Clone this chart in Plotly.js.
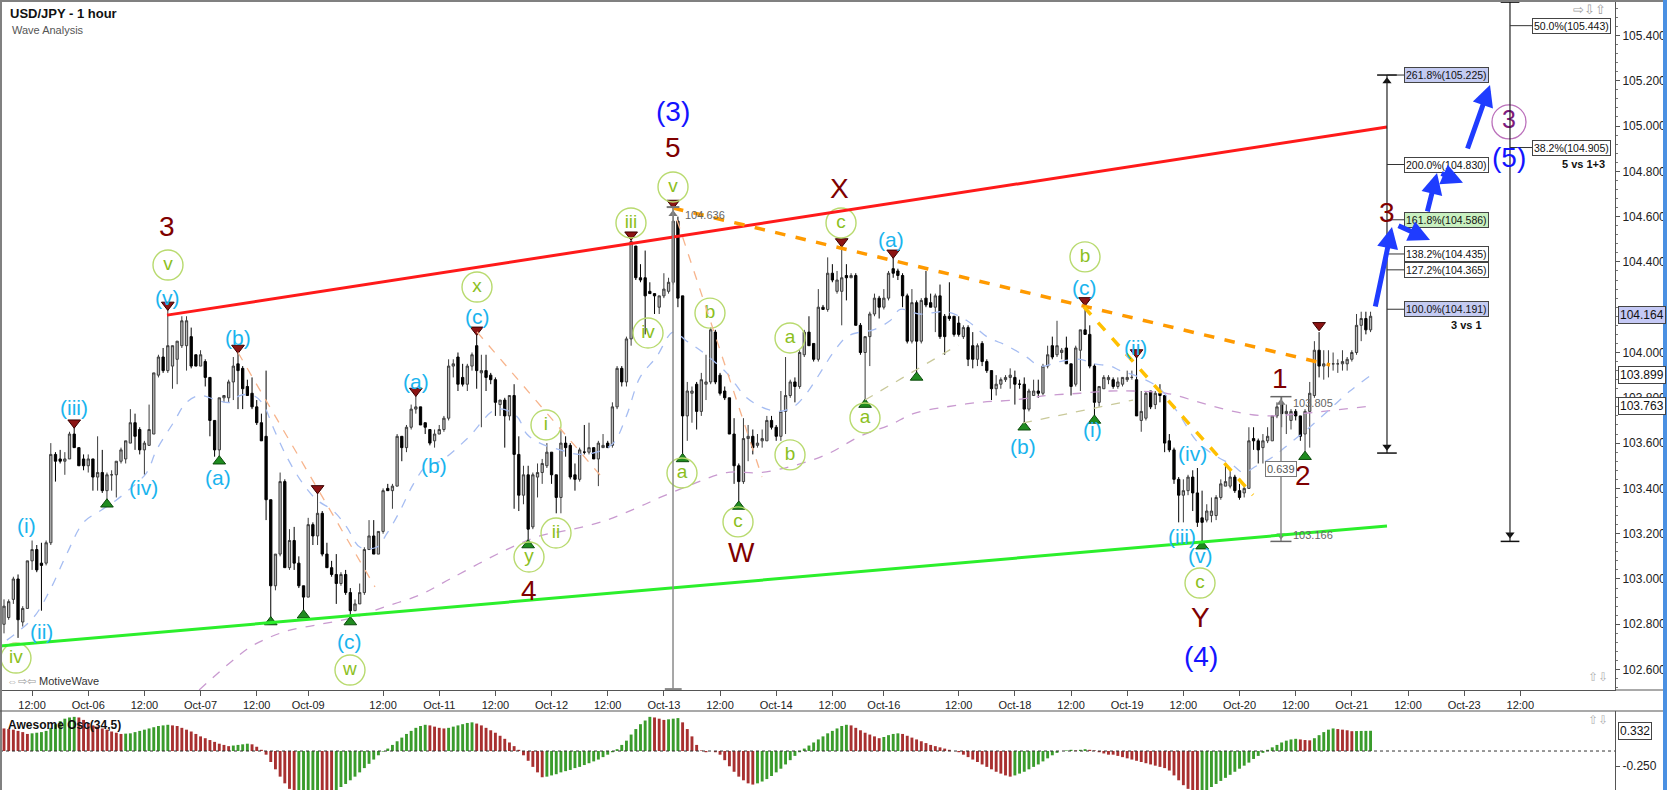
<!DOCTYPE html>
<html><head><meta charset="utf-8">
<script src="https://cdn.plot.ly/plotly-3.0.1.min.js"></script>
<style>html,body{margin:0;padding:0;background:#fff;overflow:hidden}#chart{width:1668px;height:790px}</style>
</head><body><div id="chart"></div>
<script>
// ---------------- DATA ----------------
const openP = [
102.80,102.83,102.91,103.00,102.81,102.87,103.08,103.13,103.07,103.07,
103.16,103.55,103.53,103.52,103.53,103.64,103.58,103.53,103.50,103.53,
103.45,103.47,103.39,103.46,103.46,103.52,103.53,103.60,103.69,103.66,
103.57,103.59,103.64,103.90,103.98,103.92,103.94,103.97,104.03,104.03,
104.07,103.99,103.94,103.96,103.89,103.70,103.57,103.80,103.80,103.87,
103.95,103.93,103.85,103.82,103.76,103.69,103.63,103.35,102.97,103.11,
103.43,103.05,103.17,103.07,102.97,102.92,103.24,103.19,103.29,103.11,
103.05,103.02,102.98,103.02,102.94,102.86,102.89,102.94,103.13,103.19,
103.11,103.21,103.40,103.39,103.41,103.63,103.58,103.67,103.75,103.76,
103.69,103.66,103.61,103.64,103.66,103.71,103.94,103.98,103.89,103.86,
103.94,104.03,103.91,103.92,103.90,103.88,103.77,103.79,103.72,103.81,
103.55,103.37,103.46,103.23,103.45,103.47,103.50,103.56,103.46,103.36,
103.60,103.59,103.46,103.44,103.56,103.56,103.58,103.53,103.58,103.60,
103.59,103.76,103.93,103.87,104.06,104.47,104.33,104.33,104.27,104.26,
104.20,104.25,104.27,104.31,104.58,104.25,103.72,103.82,103.86,103.74,
103.86,103.87,104.09,103.90,103.83,103.80,103.64,103.50,103.43,103.62,
103.63,103.59,103.61,103.61,103.70,103.67,103.63,103.74,103.81,103.87,
103.85,103.99,104.09,104.04,103.97,104.20,104.19,104.35,104.27,104.27,
104.34,104.33,104.34,104.12,104.00,104.07,104.17,104.24,104.20,104.24,
104.37,104.36,104.34,104.25,104.05,104.22,104.05,104.24,104.22,104.20,
104.25,104.16,104.16,104.16,104.13,104.07,104.11,104.03,103.97,104.04,
103.96,103.92,103.84,103.86,103.88,103.89,103.89,103.86,103.86,103.75,
103.81,103.83,103.82,103.94,104.03,103.99,104.00,104.02,103.95,103.86,
104.01,104.10,104.08,103.94,103.78,103.84,103.88,103.88,103.85,103.86,
103.88,103.89,103.88,103.70,103.71,103.83,103.77,103.82,103.81,103.61,
103.57,103.44,103.37,103.39,103.45,103.38,103.27,103.26,103.28,103.28,
103.36,103.41,103.41,103.45,103.39,103.38,103.40,103.62,103.61,103.58,
103.61,103.61,103.72,103.77,103.73,103.70,103.74,103.72,103.64,103.74,
103.81,104.01,103.94,103.95,103.95,103.95,103.95,103.95,103.97,104.00,
104.12,104.15,104.10];
const highP = [
102.91,102.91,103.01,103.02,102.88,103.08,103.17,103.15,103.16,103.17,
103.60,103.56,103.57,103.56,103.65,103.67,103.58,103.55,103.55,103.53,
103.63,103.57,103.47,103.48,103.52,103.58,103.61,103.75,103.73,103.67,
103.61,103.77,103.91,103.99,104.02,104.19,104.03,104.05,104.16,104.16,
104.11,103.99,104.01,103.97,103.89,103.70,103.80,103.81,103.88,103.98,
104.00,103.94,103.88,103.89,103.79,103.73,103.92,103.35,103.11,103.47,
103.44,103.22,103.23,103.10,102.97,103.27,103.25,103.38,103.30,103.16,
103.08,103.11,103.03,103.04,102.96,102.91,102.98,103.14,103.26,103.26,
103.21,103.40,103.42,103.42,103.64,103.63,103.68,103.77,103.81,103.76,
103.69,103.66,103.66,103.68,103.72,103.97,103.97,104.00,103.95,103.95,
104.00,104.08,103.99,103.99,103.91,103.89,103.79,103.80,103.81,103.86,
103.63,103.50,103.50,103.47,103.51,103.53,103.60,103.56,103.46,103.66,
103.63,103.60,103.51,103.58,103.68,103.69,103.58,103.61,103.64,103.61,
103.78,103.94,103.94,104.07,104.50,104.47,104.39,104.45,104.31,104.26,
104.25,104.35,104.33,104.636,104.60,104.25,103.87,103.85,103.87,103.91,
103.99,104.11,104.10,103.91,103.85,103.80,103.71,103.51,103.71,103.68,
103.66,103.64,103.66,103.72,103.72,103.68,103.83,103.98,103.88,103.89,
104.01,104.10,104.16,104.04,104.28,104.21,104.42,104.39,104.36,104.47,
104.39,104.35,104.35,104.13,104.07,104.18,104.26,104.25,104.28,104.36,
104.42,104.37,104.35,104.26,104.28,104.23,104.24,104.36,104.26,104.26,
104.30,104.17,104.31,104.16,104.16,104.12,104.12,104.09,104.04,104.05,
103.97,103.92,103.90,103.89,103.90,103.93,103.92,103.88,103.89,103.84,
103.88,103.88,103.95,104.03,104.07,104.14,104.02,104.07,103.95,104.03,
104.10,104.21,104.12,103.95,103.85,103.90,103.90,103.89,103.89,103.89,
103.92,103.92,103.98,103.83,103.83,103.83,103.83,103.86,103.81,103.64,
103.58,103.45,103.44,103.46,103.48,103.49,103.39,103.33,103.36,103.37,
103.44,103.51,103.48,103.46,103.42,103.41,103.67,103.67,103.62,103.64,
103.67,103.72,103.78,103.805,103.77,103.75,103.75,103.72,103.75,103.87,
104.05,104.09,104.01,104.01,104.00,103.97,104.01,103.98,104.01,104.17,
104.18,104.18,104.18];
const lowP = [
102.76,102.82,102.89,102.74,102.79,102.87,103.04,103.03,102.86,103.06,
103.15,103.43,103.51,103.46,103.53,103.58,103.50,103.48,103.47,103.39,
103.39,103.38,103.35,103.39,103.36,103.51,103.51,103.60,103.57,103.55,
103.46,103.59,103.64,103.89,103.91,103.91,103.84,103.86,104.02,103.92,
103.93,103.94,103.94,103.85,103.63,103.54,103.54,103.78,103.78,103.79,
103.75,103.75,103.81,103.75,103.68,103.61,103.26,102.83,102.95,103.10,
103.05,103.04,103.04,102.96,102.86,102.92,103.15,103.15,103.10,103.05,
103.01,102.89,102.97,102.93,102.83,102.86,102.89,102.93,103.13,103.11,
103.11,103.20,103.39,103.31,103.41,103.52,103.56,103.66,103.73,103.68,
103.64,103.59,103.58,103.64,103.65,103.70,103.89,103.83,103.85,103.83,
103.92,103.84,103.67,103.83,103.86,103.72,103.72,103.58,103.70,103.31,
103.30,103.33,103.17,103.22,103.36,103.42,103.49,103.42,103.29,103.29,
103.54,103.44,103.39,103.43,103.55,103.55,103.53,103.41,103.58,103.58,
103.58,103.75,103.85,103.85,104.03,104.32,104.31,104.08,104.26,104.17,
104.17,104.24,104.26,104.30,104.20,103.55,103.61,103.69,103.66,103.72,
103.79,103.86,103.86,103.81,103.79,103.64,103.42,103.34,103.42,103.52,
103.55,103.58,103.58,103.61,103.66,103.61,103.61,103.64,103.80,103.78,
103.84,103.98,104.03,103.96,103.96,104.19,104.18,104.31,104.26,104.12,
104.23,104.33,104.12,103.99,103.79,103.94,104.16,104.15,104.19,104.23,
104.33,104.32,104.20,104.04,104.04,103.91,104.04,104.20,104.20,104.09,
104.06,103.99,104.14,104.07,104.07,104.06,103.94,103.93,103.94,103.94,
103.91,103.79,103.81,103.84,103.87,103.84,103.77,103.84,103.69,103.74,
103.81,103.80,103.81,103.93,103.97,103.98,103.97,103.95,103.81,103.85,
103.83,104.08,103.93,103.72,103.76,103.84,103.86,103.84,103.84,103.85,
103.87,103.88,103.72,103.65,103.70,103.75,103.75,103.78,103.56,103.56,
103.42,103.25,103.25,103.37,103.30,103.23,103.166,103.25,103.25,103.26,
103.35,103.41,103.40,103.38,103.35,103.36,103.40,103.57,103.51,103.51,
103.60,103.61,103.71,103.67,103.64,103.66,103.70,103.61,103.56,103.58,
103.80,103.89,103.88,103.89,103.92,103.91,103.92,103.92,103.96,103.99,
104.05,104.08,104.09];
const closeP = [
102.88,102.90,103.00,102.82,102.87,103.08,103.13,103.04,103.06,103.16,
103.55,103.52,103.52,103.53,103.64,103.58,103.50,103.50,103.53,103.45,
103.47,103.39,103.46,103.46,103.52,103.57,103.61,103.69,103.63,103.57,
103.60,103.66,103.91,103.98,103.92,104.03,104.03,104.05,104.14,104.14,
103.94,103.94,103.99,103.89,103.70,103.57,103.80,103.81,103.87,103.94,
103.92,103.84,103.81,103.76,103.69,103.61,103.35,102.97,103.11,103.43,
103.05,103.17,103.07,102.97,102.92,103.24,103.19,103.29,103.11,103.05,
103.02,102.98,103.02,102.94,102.86,102.89,102.94,103.13,103.19,103.11,
103.21,103.39,103.39,103.41,103.63,103.58,103.67,103.75,103.76,103.68,
103.67,103.60,103.64,103.66,103.71,103.94,103.95,103.86,103.86,103.94,
103.99,103.92,103.92,103.89,103.88,103.78,103.79,103.72,103.81,103.55,
103.37,103.46,103.22,103.46,103.47,103.51,103.56,103.46,103.36,103.60,
103.58,103.45,103.44,103.57,103.56,103.58,103.53,103.60,103.59,103.58,
103.76,103.93,103.87,104.06,104.49,104.33,104.32,104.25,104.26,104.25,
104.25,104.28,104.31,104.58,104.24,103.72,103.83,103.83,103.74,103.88,
103.87,104.10,103.87,103.82,103.80,103.64,103.50,103.43,103.62,103.63,
103.58,103.60,103.62,103.70,103.67,103.63,103.74,103.81,103.87,103.85,
104.00,104.09,104.03,103.97,104.20,104.19,104.35,104.32,104.32,104.33,
104.33,104.34,104.12,104.00,104.07,104.17,104.24,104.20,104.24,104.35,
104.35,104.34,104.25,104.05,104.22,104.05,104.23,104.21,104.20,104.25,
104.07,104.07,104.15,104.08,104.08,104.11,103.97,103.97,104.03,103.96,
103.92,103.84,103.86,103.88,103.89,103.90,103.86,103.86,103.75,103.83,
103.83,103.82,103.94,103.99,103.98,104.03,104.01,103.95,103.85,104.02,
104.10,104.08,103.94,103.78,103.85,103.89,103.89,103.85,103.87,103.89,
103.89,103.89,103.72,103.74,103.82,103.76,103.82,103.81,103.60,103.57,
103.44,103.37,103.39,103.45,103.38,103.25,103.25,103.30,103.30,103.36,
103.42,103.43,103.45,103.39,103.36,103.40,103.61,103.61,103.57,103.61,
103.63,103.72,103.76,103.73,103.74,103.74,103.72,103.63,103.74,103.82,
104.01,103.94,103.95,103.95,103.95,103.95,103.96,103.97,104.00,104.12,
104.15,104.10,104.16];
// Awesome Oscillator (34,5), one value per candle
const aoValues = [
0.37,0.36,0.35,0.33,0.31,0.28,0.29,0.30,0.31,0.33,
0.38,0.44,0.49,0.53,0.55,0.56,0.55,0.51,0.46,0.42,
0.40,0.37,0.35,0.32,0.30,0.28,0.285,0.29,0.31,0.33,
0.35,0.37,0.39,0.41,0.42,0.43,0.42,0.41,0.38,0.35,
0.32,0.28,0.24,0.21,0.18,0.15,0.12,0.10,0.08,0.09,
0.10,0.11,0.12,0.11,0.07,0.02,-0.06,-0.18,-0.30,-0.42,
-0.53,-0.62,-0.70,-0.69,-0.68,-0.67,-0.66,-0.65,-0.66,-0.67,
-0.68,-0.64,-0.59,-0.54,-0.48,-0.42,-0.35,-0.28,-0.21,-0.14,
-0.07,-0.01,0.04,0.10,0.16,0.22,0.28,0.33,0.38,0.41,
0.43,0.42,0.40,0.38,0.37,0.38,0.40,0.42,0.44,0.46,
0.47,0.45,0.42,0.38,0.34,0.30,0.25,0.20,0.14,0.08,
0.02,-0.07,-0.16,-0.26,-0.35,-0.43,-0.42,-0.40,-0.38,-0.35,
-0.33,-0.31,-0.28,-0.26,-0.23,-0.20,-0.17,-0.14,-0.10,-0.06,
-0.02,0.03,0.10,0.17,0.27,0.36,0.44,0.50,0.56,0.55,
0.53,0.51,0.52,0.53,0.54,0.47,0.36,0.24,0.10,0.01,
-0.02,0.00,-0.02,-0.06,-0.15,-0.25,-0.34,-0.42,-0.48,-0.53,
-0.55,-0.53,-0.50,-0.46,-0.41,-0.35,-0.29,-0.22,-0.15,-0.08,
-0.02,0.04,0.09,0.14,0.19,0.24,0.29,0.33,0.37,0.41,
0.43,0.42,0.38,0.34,0.30,0.27,0.24,0.21,0.23,0.26,
0.28,0.29,0.28,0.25,0.22,0.19,0.16,0.13,0.10,0.08,
0.06,0.04,0.02,0.00,-0.02,-0.06,-0.10,-0.14,-0.18,-0.22,
-0.26,-0.30,-0.34,-0.37,-0.40,-0.42,-0.40,-0.37,-0.34,-0.30,
-0.26,-0.22,-0.17,-0.12,-0.07,-0.03,0.00,0.01,0.02,0.01,
0.02,0.03,0.02,0.01,-0.02,-0.04,-0.06,-0.06,-0.08,-0.10,
-0.12,-0.14,-0.16,-0.18,-0.20,-0.22,-0.24,-0.26,-0.28,-0.32,
-0.40,-0.48,-0.56,-0.62,-0.67,-0.70,-0.68,-0.64,-0.59,-0.54,
-0.49,-0.44,-0.39,-0.34,-0.29,-0.24,-0.19,-0.13,-0.08,-0.03,
0.02,0.06,0.10,0.14,0.17,0.19,0.20,0.19,0.18,0.175,
0.21,0.26,0.31,0.35,0.37,0.36,0.35,0.34,0.325,0.327,
0.329,0.330,0.332];
// moving averages (bar number, price)
const maFastBar = [0.6,6.3,9.8,13.4,17,20.5,24.1,27.6,30.5,32.6,36.2,39,41.9,45.4,48.3,50.4,53.3,55.4,57.5,60.4,63.9,66.8,70.4,73.2,76.1,79.6,81.8,84.6,87.5,90.3,93.2,99,105.3,109.5,111.7,114.5,118.8,123,126.6,130.2,133,135.9,139.4,143,145.9,149.4,154.4,158.7,163,165.8,168.7,171.5,174.4,177.2,180.1,182.9,185.7,189.3,191.5,195.7,201.4,205.8,210,214.3,218.5,221.4,225.6,229.9,232.8,236.4,238.5,242.7,247,251.3,254.8,258.4,262.7,264.8,267.7,271.2,274.8,279,283.3,287.6,292];
const maFastVal = [102.73,102.83,102.95,103.11,103.25,103.30,103.35,103.41,103.47,103.57,103.69,103.78,103.81,103.79,103.78,103.81,103.81,103.77,103.67,103.54,103.42,103.35,103.30,103.23,103.14,103.14,103.20,103.30,103.42,103.50,103.52,103.62,103.75,103.72,103.64,103.60,103.57,103.55,103.56,103.60,103.72,103.89,103.98,104.09,104.05,104.00,103.91,103.80,103.75,103.74,103.76,103.82,103.91,104.00,104.07,104.09,104.10,104.14,104.19,104.17,104.18,104.14,104.07,104.03,103.98,103.94,103.96,103.97,103.95,103.94,103.92,103.89,103.84,103.72,103.61,103.55,103.50,103.47,103.50,103.54,103.60,103.67,103.75,103.83,103.899];
const maSlowBar = [41.7,51.9,55.4,60.4,67.5,74.7,81.8,88.9,95.3,107.4,114.5,121.6,128.8,135.9,140.2,147.3,154.4,161.5,168.7,175.8,182.9,189.3,194.3,201.4,208.5,215.7,222.8,229.9,236.4,241.3,248.4,255.5,262.7,269.8,276.9,281.9,292];
const maSlowVal = [102.51,102.69,102.73,102.77,102.80,102.83,102.88,102.93,103.00,103.13,103.19,103.22,103.26,103.32,103.36,103.42,103.47,103.47,103.50,103.55,103.63,103.68,103.73,103.76,103.78,103.79,103.81,103.82,103.83,103.83,103.82,103.78,103.74,103.72,103.73,103.74,103.763];
// time-axis labels (every 12 bars, as printed)
const tickBars = [6,18,30,42,54,65,81,93,105,117,129,141,153,165,177,188,204,216,228,240,252,264,276,288,300,312,324];
const tickText = ['12:00','Oct-06','12:00','Oct-07','12:00','Oct-09','12:00','Oct-11','12:00','Oct-12','12:00','Oct-13','12:00','Oct-14','12:00','Oct-16','12:00','Oct-18','12:00','Oct-19','12:00','Oct-20','12:00','Oct-21','12:00','Oct-23','12:00'];
// price-axis labels (104.200 sits under the last-price box in the original)
const priceTicks = [102.6,102.8,103.0,103.2,103.4,103.6,103.8,104.0,104.4,104.6,104.8,105.0,105.2,105.4];
// swing markers
const swingHighBars = [15,35,50,67,88,101,134,143,179,190,231,242,281];
const swingHighPx   = [103.69,104.21,104.02,103.40,103.83,104.10,104.52,104.66,104.49,104.44,104.23,104.00,104.12];
const swingLowBars  = [22,46,57,64,74,112,145,157,184,195,218,233,256,278];
const swingLowPx    = [103.33,103.52,102.81,102.84,102.81,103.15,103.53,103.32,103.77,103.89,103.67,103.70,103.145,103.54];
// Fibonacci levels
const fibA = [['261.8%','105.225',105.225,'#c4cbf2'],['200.0%','104.830',104.830,'#ffffff'],['161.8%','104.586',104.586,'#c9f0c0'],['138.2%','104.435',104.435,'#ffffff'],['127.2%','104.365',104.365,'#ffffff'],['100.0%','104.191',104.191,'#c4cbf2']];
const fibB = [['50.0%','105.443',105.443,'#ffffff'],['38.2%','104.905',104.905,'#ffffff']];
const lastClose = 104.164, maFastLast = 103.899, maSlowLast = 103.763, aoLast = 0.332;
// wave labels [bar, price, text]
const greenWave = [[2.56,102.651,'iv'],[35.04,104.386,'v'],[101.07,104.289,'x'],[73.93,102.598,'w'],[115.81,103.680,'i'],[117.95,103.203,'ii'],[112.18,103.097,'y'],[133.97,104.572,'iii'],[137.61,104.086,'iv'],[142.95,104.731,'v'],[144.87,103.468,'a'],[150.85,104.174,'b'],[156.84,103.252,'c'],[167.95,104.064,'a'],[167.95,103.548,'b'],[178.85,104.572,'c'],[183.97,103.711,'a'],[230.98,104.422,'b'],[255.56,102.982,'c']];
const cyanWave = [[4.91,103.238,'(i)'],[7.91,102.766,'(ii)'],[14.96,103.755,'(iii)'],[29.91,103.402,'(iv)'],[35.04,104.245,'(v)'],[45.73,103.450,'(a)'],[50.0,104.068,'(b)'],[73.93,102.722,'(c)'],[88.03,103.870,'(a)'],[91.88,103.503,'(b)'],[101.07,104.157,'(c)'],[189.53,104.497,'(a)'],[217.74,103.583,'(b)'],[230.77,104.285,'(c)'],[232.69,103.658,'(i)'],[241.67,104.024,'(ii)'],[251.71,103.186,'(iii)'],[253.85,103.556,'(iv)'],[255.56,103.102,'(v)']];
const redWave = [[34.83,104.558,'3'],[112.18,102.951,'4'],[142.95,104.903,'5'],[157.48,103.119,'W'],[178.63,104.726,'X'],[255.56,102.828,'Y'],[272.65,103.887,'1'],[277.56,103.459,'2'],[295.51,104.616,'3']];
const blueWave = [[142.95,105.062,'(3)'],[255.77,102.656,'(4)'],[321.58,104.859,'(5)']];

// ---------------- CHART ----------------
const FONT = 'Liberation Sans, Arial, sans-serif';
const bars = closeP.map((_, i) => i);
const XR = [-0.855, 344.23];
const aoColors = aoValues.map((v, i) => (i > 0 && v > aoValues[i-1]) ? '#3a9c2c' : '#a83030');

const traces = [];
traces.push({type:'scatter',mode:'lines',x:maSlowBar,y:maSlowVal,line:{color:'#c99ad0',width:1.3,dash:'dash',shape:'spline'},hoverinfo:'skip'});
traces.push({type:'scatter',mode:'lines',x:maFastBar,y:maFastVal,line:{color:'#a6bdf2',width:1.3,dash:'dash',shape:'spline'},hoverinfo:'skip'});
traces.push({type:'candlestick',x:bars,open:openP,high:highP,low:lowP,close:closeP,
  increasing:{line:{color:'#3c3c3c',width:1},fillcolor:'#b9b9b9'},
  decreasing:{line:{color:'#000000',width:1},fillcolor:'#000000'},
  whiskerwidth:0,hoverinfo:'skip'});
traces.push({type:'bar',x:bars,y:aoValues,xaxis:'x',yaxis:'y2',width:0.62,marker:{color:aoColors,line:{width:0}},hoverinfo:'skip'});
traces.push({type:'scatter',mode:'markers',x:swingHighBars,y:swingHighPx,marker:{symbol:'triangle-down',size:11,color:'#8c1414',line:{color:'#3a0000',width:1}},hoverinfo:'skip'});
traces.push({type:'scatter',mode:'markers',x:swingLowBars,y:swingLowPx,marker:{symbol:'triangle-up',size:11,color:'#1f8c1f',line:{color:'#0b4a0b',width:1}},hoverinfo:'skip'});
traces.push({type:'scatter',mode:'markers+text',x:greenWave.map(d=>d[0]),y:greenWave.map(d=>d[1]),text:greenWave.map(d=>d[2]),textposition:'middle center',
  textfont:{family:FONT,size:19,color:'#8cbf1e'},marker:{symbol:'circle-open',size:30,color:'#b8da6e',line:{width:1.4}},hoverinfo:'skip'});
traces.push({type:'scatter',mode:'markers+text',x:[321.58],y:[105.018],text:['3'],textposition:'middle center',
  textfont:{family:FONT,size:25,color:'#7d1a7d'},marker:{symbol:'circle-open',size:34,color:'#bb70bb',line:{width:1.3}},hoverinfo:'skip'});
// measurement arrowheads
traces.push({type:'scatter',mode:'markers',x:[142.95,272.86,295.51],y:[104.612,103.778,105.198],marker:{symbol:'triangle-up',size:8,color:['#777','#777','#111']},hoverinfo:'skip'});
traces.push({type:'scatter',mode:'markers',x:[272.86,295.51,321.79],y:[103.192,103.584,103.196],marker:{symbol:'triangle-down',size:8,color:['#777','#111','#111']},hoverinfo:'skip'});

const shapes = [];
function seg(x0,y0,x1,y1,color,width,dash,yref){shapes.push({type:'line',xref:'x',yref:yref||'y',x0,y0,x1,y1,line:{color,width,dash:dash||'solid'},layer:'above'});}
function pseg(x0,y0,x1,y1,color,width,dash){shapes.push({type:'line',xref:'paper',yref:'paper',x0:x0/1668,y0:1-y0/790,x1:x1/1668,y1:1-y1/790,line:{color,width,dash:dash||'solid'}});}
// trend channel
seg(34.83,104.165,295.51,104.996,'#ff1a1a',3);
seg(-0.855,102.704,295.51,103.234,'#2bef2b',3);
// trend lines
seg(142.95,104.638,283.33,103.945,'#ff9a00',3.5,'dash');
seg(230.77,104.201,266.88,103.371,'#ffc000',3.5,'dash');
seg(50.0,104.000,79.27,102.965,'#f7b48c',1.3,'dash');
seg(101.07,104.091,127.35,103.459,'#f7b48c',1.3,'dash');
seg(143.8,104.585,161.97,103.450,'#f7b48c',1.3,'dash');
seg(183.97,103.790,203.85,104.033,'#c9c99a',1.3,'dash');
seg(217.74,103.689,241.24,103.790,'#c9c99a',1.3,'dash');
// measurement 1 (peak)
seg(142.95,104.642,142.95,102.512,'#8a8a8a',1.5);
seg(141.6,104.642,144.3,104.642,'#777',2);
seg(141.2,102.514,144.8,102.514,'#888',2);
// measurement 2
seg(272.86,103.805,272.86,103.166,'#8a8a8a',1.5);
seg(270.6,103.805,275.1,103.805,'#666',1.5);
seg(270.6,103.166,275.1,103.166,'#666',1.5);
// measurement 3 with fib ticks
seg(295.51,105.225,295.51,103.556,'#222',1.2);
seg(293.4,105.225,297.6,105.225,'#111',1.5);
seg(293.4,103.556,297.6,103.556,'#111',1.5);
fibA.forEach(f=>seg(295.51,f[2],299.15,f[2],'#333',1));
// measurement 4
seg(321.79,105.547,321.79,103.166,'#222',1.2);
seg(319.8,105.547,323.8,105.547,'#111',1.5);
seg(319.8,103.166,323.8,103.166,'#111',1.5);
fibB.forEach(f=>seg(321.79,f[2],326.5,f[2],'#333',1));
// oscillator zero line
shapes.push({type:'line',xref:'paper',yref:'y2',x0:0,x1:1615/1668,y0:0,y1:0,line:{color:'#333',width:1,dash:'dot'}});
// frame
pseg(0,1,1666,1,'#808080',2);
pseg(1,0,1,790,'#808080',2);
pseg(0,711,1664,711,'#555',1.2);
pseg(1615,690,1664,690,'#555',1);
pseg(1665,0,1665,790,'#4a90e2',4);

const ann = [];
function lab(x,y,t,size,color,bold){ann.push({x,y,xref:'x',yref:'y',text:bold?'<b>'+t+'</b>':t,showarrow:false,font:{family:FONT,size,color}});}
cyanWave.forEach(d=>lab(d[0],d[1],d[2],21,'#1ab4ee'));
redWave.forEach(d=>lab(d[0],d[1],d[2],28,'#7f0000'));
blueWave.forEach(d=>lab(d[0],d[1],d[2],28,'#1414ff'));
fibA.forEach(f=>ann.push({x:299.15,y:f[2],xref:'x',yref:'y',xanchor:'left',text:f[0]+'('+f[1]+')',showarrow:false,font:{family:FONT,size:10.5,color:'#111'},bgcolor:f[3],bordercolor:'#444',borderwidth:1,borderpad:1}));
fibB.forEach(f=>ann.push({x:326.5,y:f[2],xref:'x',yref:'y',xanchor:'left',text:f[0]+'('+f[1]+')',showarrow:false,font:{family:FONT,size:10.5,color:'#111'},bgcolor:f[3],bordercolor:'#444',borderwidth:1,borderpad:1}));
ann.push({x:312.6,y:104.121,xref:'x',yref:'y',text:'<b>3 vs 1</b>',showarrow:false,font:{family:FONT,size:11,color:'#111'}});
ann.push({x:337.4,y:104.832,xref:'x',yref:'y',text:'<b>5 vs 1+3</b>',showarrow:false,font:{family:FONT,size:11,color:'#111'}});
ann.push({x:145.1,y:104.607,xref:'x',yref:'y',xanchor:'left',text:'104.636',showarrow:false,font:{family:FONT,size:11,color:'#666'}});
ann.push({x:274.9,y:103.775,xref:'x',yref:'y',xanchor:'left',text:'103.805',showarrow:false,font:{family:FONT,size:11,color:'#666'}});
ann.push({x:274.9,y:103.195,xref:'x',yref:'y',xanchor:'left',text:'103.166',showarrow:false,font:{family:FONT,size:11,color:'#666'}});
ann.push({x:272.86,y:103.486,xref:'x',yref:'y',text:'0.639',showarrow:false,font:{family:FONT,size:11,color:'#555'},bgcolor:'#ffffff',bordercolor:'#777',borderwidth:1,borderpad:1});
// projected path arrows
const arrows = [[292.95,104.196,296.58,104.554],[297.65,104.563,304.7,104.497],[304.06,104.616,306.2,104.793],[306.84,104.793,311.75,104.749],[312.61,104.894,317.52,105.181]];
arrows.forEach(a=>ann.push({x:a[2],y:a[3],ax:a[0],ay:a[1],xref:'x',yref:'y',axref:'x',ayref:'y',text:'',showarrow:true,arrowhead:2,arrowsize:0.85,arrowwidth:5,arrowcolor:'#1f3cff',standoff:0}));
// axis value boxes
function box(y,t,bg,yref){ann.push({x:1618/1668,y,xref:'paper',yref:yref||'y',xanchor:'left',text:t,showarrow:false,font:{family:FONT,size:12,color:'#111'},bgcolor:bg,bordercolor:'#444',borderwidth:1,borderpad:1});}
box(lastClose,lastClose.toFixed(3),'#c5c9f5');
box(maFastLast,maFastLast.toFixed(3),'#ffffff');
box(maSlowLast,maSlowLast.toFixed(3),'#ffffff');
box(aoLast,aoLast.toFixed(3),'#ffffff','y2');
// titles and captions
function ptext(x,y,t,size,color,anchor){ann.push({x:x/1668,y:1-y/790,xref:'paper',yref:'paper',xanchor:anchor||'left',yanchor:'middle',text:t,showarrow:false,font:{family:FONT,size,color}});}
ptext(8,14,'<b>USD/JPY - 1 hour</b>',13,'#111');
ptext(10,30,'Wave Analysis',11,'#555');
ptext(6,725,'<b>Awesome Osc(34,5)</b>',12,'#111');
ptext(5,681,'<span style="color:#999">⇔⇨⇦</span> MotiveWave',11,'#333');
ptext(1608,10,'⇨⇩⇧',13,'#a0a0a0','right');
ptext(1610,677,'⇧⇩',12,'#b0b0b0','right');
ptext(1610,720,'⇧⇩',12,'#b0b0b0','right');

const layout = {
  width:1668,height:790,margin:{l:0,r:0,t:0,b:0},paper_bgcolor:'#ffffff',plot_bgcolor:'#ffffff',
  showlegend:false,dragmode:false,hovermode:false,
  xaxis:{domain:[0,1615/1668],range:XR,anchor:'y',showgrid:false,zeroline:false,showline:true,linecolor:'#555',linewidth:1,
    ticks:'outside',ticklen:5,tickcolor:'#555',tickvals:tickBars,ticktext:tickText,tickfont:{family:FONT,size:11,color:'#222'},
    rangeslider:{visible:false},fixedrange:true},
  yaxis:{domain:[100/790,1],range:[102.5099,105.5563],side:'right',anchor:'x',showgrid:false,zeroline:false,showline:true,linecolor:'#555',
    ticks:'outside',ticklen:4,tickcolor:'#555',tickvals:priceTicks,ticktext:priceTicks.map(v=>v.toFixed(3)),tickfont:{family:FONT,size:12,color:'#222'},
    minor:{dtick:0.04,tick0:0,ticklen:2,tickcolor:'#777',ticks:'outside',showgrid:false},fixedrange:true},
  yaxis2:{domain:[0,79/790],range:[-0.639,0.656],side:'right',anchor:'x',showgrid:false,zeroline:false,showline:true,linecolor:'#555',
    ticks:'outside',ticklen:4,tickcolor:'#555',tickvals:[-0.25],ticktext:['-0.250'],tickfont:{family:FONT,size:12,color:'#222'},fixedrange:true},
  shapes:shapes,annotations:ann
};
Plotly.newPlot('chart',traces,layout,{displayModeBar:false,staticPlot:true});
</script></body></html>
